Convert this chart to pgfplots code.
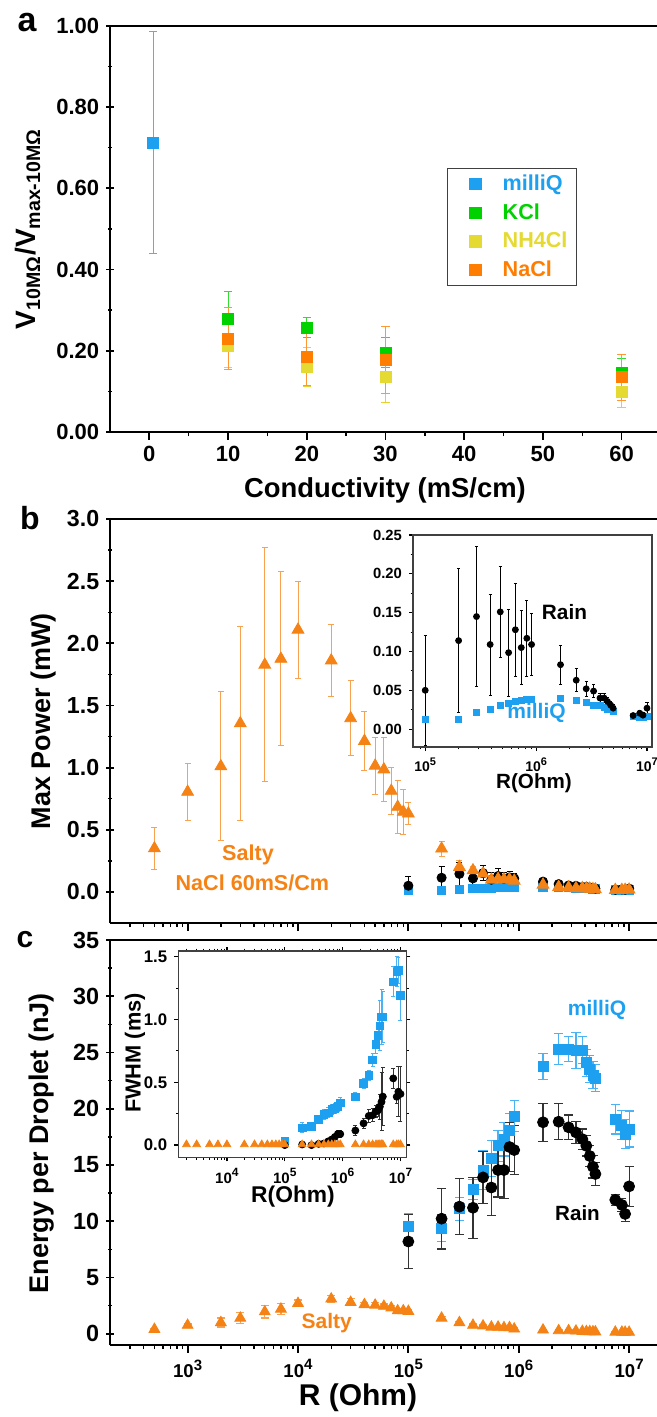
\documentclass[border=0pt]{standalone}
\usepackage{fontspec}
\setmainfont{Liberation Sans}
\usepackage{pgfplots}
\usepackage{pgfplotstable}
\pgfplotsset{compat=1.18}

\definecolor{cblue}{RGB}{30,160,240}
\definecolor{cgreen}{RGB}{0,210,0}
\definecolor{cyel}{RGB}{228,218,50}
\definecolor{corg}{RGB}{255,125,0}
\definecolor{salty}{RGB}{245,130,20}

\newcommand\lbl[1]{\bfseries\fontsize{#1}{#1}\selectfont}
\newcommand\tenp[2]{10\raisebox{0.42em}{\fontsize{#1}{#1}\selectfont #2}}

% panel a
\pgfplotstableread{
x y e
0.5 0.713 0.273
}\aMilli
\pgfplotstableread{
x y e
10 0.279 0.067
20 0.257 0.025
30 0.195 0.037
60 0.145 0.036
}\aKCl
\pgfplotstableread{
x y e
10 0.213 0.055
20 0.160 0.047
30 0.135 0.062
60 0.098 0.037
}\aNH
\pgfplotstableread{
x y e
10 0.230 0.076
20 0.185 0.070
30 0.178 0.082
60 0.135 0.057
}\aNaCl

% panels b, c: power (P), energy (E), FWHM (F)
\pgfplotstableread{
R P Pe E Ee F Fe
1e5 0.050 0.071 8.2 2.4 0.000 0.010
2e5 0.114 0.093 10.23 2.7 0.005 0.010
2.9e5 0.145 0.090 11.3 2.5 0.000 0.010
3.85e5 0.109 0.065 11.2 2.7 0.010 0.010
4.75e5 0.151 0.059 13.9 2.3 0.013 0.015
5.65e5 0.0985 0.056 13.0 2.5 0.030 0.020
6.5e5 0.128 0.060 14.55 2.4 0.045 0.020
7.35e5 0.105 0.048 14.55 2.5 0.065 0.020
8.25e5 0.117 0.049 16.6 2.2 0.088 0.030
9.1e5 0.109 0.040 16.33 2.2 0.088 0.030
1.66e6 0.083 0.025 18.8 1.7 0.116 0.040
2.3e6 0.063 0.015 18.85 1.6 0.173 0.040
2.83e6 0.052 0.010 18.35 1.1 0.232 0.050
3.3e6 0.049 0.008 17.9 1.0 0.238 0.050
3.77e6 0.040 0.006 17.3 0.9 0.268 0.050
4.1e6 0.040 0.006 16.7 0.9 0.277 0.050
4.4e6 0.0356 0.005 15.8 0.9 0.306 0.100
4.7e6 0.031 0.005 14.85 1.0 0.344 0.230
4.95e6 0.027 0.005 14.2 1.0 0.386 0.230
7.5e6 0.0175 0.002 11.9 0.5 0.531 0.080
8.6e6 0.0205 0.003 11.45 0.6 0.385 0.050
9.2e6 0.018 0.003 10.65 0.7 0.425 0.200
1e7 0.027 0.008 13.1 1.8 0.407 0.220
}\rain
\pgfplotstableread{
R P Pe E Ee F Fe
1e5 0.012 0.002 9.5 1.2 0.032 0.020
2e5 0.012 0.002 9.4 1.2 0.138 0.040
2.9e5 0.0214 0.002 11.1 1.0 0.151 0.030
3.85e5 0.026 0.002 12.84 0.9 0.204 0.030
4.75e5 0.030 0.003 14.55 1.7 0.244 0.040
5.65e5 0.0334 0.003 15.6 1.6 0.257 0.040
6.5e5 0.036 0.003 16.7 1.4 0.284 0.040
7.35e5 0.0368 0.003 17.3 1.5 0.292 0.040
8.25e5 0.0377 0.003 18.1 1.5 0.310 0.040
9.1e5 0.0386 0.003 19.35 1.4 0.337 0.040
1.66e6 0.039 0.002 23.75 1.15 0.385 0.030
2.3e6 0.0368 0.002 25.3 1.4 0.490 0.040
2.83e6 0.0342 0.002 25.3 1.1 0.557 0.040
3.3e6 0.0304 0.002 25.2 1.6 0.677 0.050
3.77e6 0.030 0.002 25.2 1.2 0.800 0.070
4.1e6 0.0283 0.002 24.1 1.2 0.875 0.070
4.4e6 0.026 0.002 23.5 1.2 0.950 0.200
4.7e6 0.025 0.002 23.0 1.2 1.020 0.220
4.95e6 0.023 0.002 22.7 1.2 1.020 0.200
7.5e6 0.0162 0.002 19.05 1.3 1.300 0.120
8.6e6 0.015 0.002 18.55 1.3 1.380 0.120
9.2e6 0.015 0.002 17.75 1.3 1.390 0.100
1e7 0.017 0.002 18.2 1.6 1.194 0.200
}\milli
\pgfplotstableread{
R P Pe E Ee F
500 0.350 0.17 0.40 0.10 0.005
1000 0.805 0.23 0.76 0.10 0.005
2000 1.010 0.60 1.00 0.40 0.005
3000 1.356 0.78 1.40 0.50 0.005
5000 1.827 0.94 1.96 0.55 0.005
7000 1.875 0.70 2.20 0.50 0.005
1e4 2.109 0.39 2.70 0.30 0.005
2e4 1.861 0.29 3.10 0.30 0.005
3e4 1.397 0.30 2.80 0.30 0.005
4e4 1.214 0.24 2.60 0.20 0.005
5e4 1.015 0.23 2.55 0.20 0.005
6e4 0.985 0.26 2.45 0.20 0.005
7e4 0.813 0.19 2.30 0.20 0.005
8e4 0.684 0.21 2.05 0.20 0.005
9e4 0.644 0.18 2.05 0.20 0.005
1e5 0.630 0.09 2.00 0.15 0.005
2e5 0.348 0.06 1.40 0.15 0.005
2.9e5 0.200 0.05 1.00 0.10 0.005
3.85e5 0.173 0.03 0.76 0.10 0.005
4.75e5 0.147 0.03 0.70 0.08 0.005
5.65e5 0.098 0.02 0.60 0.08 0.005
6.5e5 0.105 0.02 0.60 0.08 0.005
7.35e5 0.100 0.02 0.55 0.08 0.005
8.25e5 0.100 0.02 0.55 0.08 0.005
9.1e5 0.090 0.02 0.43 0.08 0.005
1.66e6 0.058 0.01 0.34 0.05 0.005
2.3e6 0.040 0.01 0.28 0.05 0.005
2.83e6 0.035 0.01 0.28 0.05 0.005
3.3e6 0.030 0.01 0.25 0.05 0.005
3.77e6 0.030 0.01 0.22 0.05 0.005
4.1e6 0.028 0.01 0.20 0.05 0.005
4.4e6 0.025 0.01 0.20 0.05 0.005
4.7e6 0.022 0.01 0.18 0.05 0.005
4.95e6 0.020 0.01 0.17 0.05 0.005
7.5e6 0.015 0.01 0.15 0.05 0.005
8.6e6 0.015 0.01 0.15 0.05 0.005
9.2e6 0.016 0.01 0.14 0.30 0.005
1e7 0.018 0.01 0.14 0.05 0.005
}\salt

\pgfplotsset{
  base/.style={scale only axis, anchor=north west, tick align=outside,
    axis x line=box, axis y line=left, xtick pos=left, ytick pos=left,
    axis line style={-, line width=1pt, black},
    every outer y axis line/.append style={-},
    major tick length=3.75pt, minor tick length=2pt,
    major tick style={line width=0.9pt, black},
    minor tick style={line width=0.7pt, black},
    /pgf/number format/assume math mode=true},
  inset/.style={scale only axis, anchor=north west, tick align=outside,
    axis line style={line width=0.7pt, black!75},
    major tick length=2pt, minor tick length=1.2pt,
    major tick style={line width=0.6pt, black},
    minor tick style={line width=0.5pt, black},
    axis background/.style={fill=white},
    /pgf/number format/assume math mode=true},
  eb/.style n args={3}{error bars/.cd, y dir=both, y explicit,
    error bar style={line width=#3, #1},
    error mark options={rotate=90, mark size=#2, line width=#3, #1}},
}

\begin{document}
\begin{tikzpicture}
\useasboundingbox (0,0) rectangle (328.5pt,-708.5pt);

% ---------- panel a ----------
\begin{axis}[base, at={(55pt,-13pt)}, width=273.5pt, height=203pt,
  xmin=-5, xmax=64.5, ymin=0, ymax=1,
  xtick={0,10,20,30,40,50,60}, minor x tick num=1,
  ytick={0,0.2,0.4,0.6,0.8,1}, minor y tick num=1,
  tick label style={font=\lbl{11}},
  yticklabel style={/pgf/number format/fixed, /pgf/number format/fixed zerofill,
    /pgf/number format/precision=2},
  legend style={at={(0.616,0.650)}, anchor=north west, draw=black!75,
    line width=0.7pt, font=\lbl{10.8}, inner xsep=2.5pt, inner ysep=1pt,
    row sep=1pt, cells={anchor=west}},
  legend image code/.code={\path[draw=none, fill=none] (0pt,0pt) -- (23pt,0pt);
    \draw[#1] plot coordinates {(11.5pt,0pt)};},
  legend entries={\textcolor{cblue}{milliQ},\textcolor{cgreen}{KCl},
    \textcolor{cyel}{NH4Cl},\textcolor{corg}{NaCl}}]
\addplot[only marks, mark=square*, mark size=2.75pt, cblue,
  eb={cblue!80}{2.1pt}{0.5pt}] table[x=x, y=y, y error=e]{\aMilli};
\addplot[only marks, mark=square*, mark size=2.75pt, cgreen,
  eb={cgreen!80}{2.1pt}{0.5pt}] table[x=x, y=y, y error=e]{\aKCl};
\addplot[only marks, mark=square*, mark size=2.75pt, cyel,
  eb={cyel!90!orange}{2.1pt}{0.5pt}] table[x=x, y=y, y error=e]{\aNH};
\addplot[only marks, mark=square*, mark size=2.75pt, corg,
  eb={corg!80}{2.1pt}{0.5pt}] table[x=x, y=y, y error=e]{\aNaCl};
\end{axis}

% ---------- panel b ----------
\begin{axis}[base, at={(55pt,-259.5pt)}, width=273.5pt, height=202pt,
  xmode=log, xmin=198, xmax=1.79e7, ymin=-0.25, ymax=3,
  xtick={1e3,1e4,1e5,1e6,1e7}, xticklabels={},
  minor xtick={300,400,500,600,700,800,900,2000,3000,4000,5000,6000,7000,8000,9000,
    2e4,3e4,4e4,5e4,6e4,7e4,8e4,9e4,2e5,3e5,4e5,5e5,6e5,7e5,8e5,9e5,
    2e6,3e6,4e6,5e6,6e6,7e6,8e6,9e6},
  ytick={0,0.5,1,1.5,2,2.5,3}, minor y tick num=1,
  tick label style={font=\lbl{11.6}},
  yticklabel style={/pgf/number format/fixed, /pgf/number format/fixed zerofill,
    /pgf/number format/precision=1}]
\addplot[only marks, mark=square*, mark size=2.1pt, cblue,
  eb={cblue!80}{1.5pt}{0.5pt}] table[x=R, y=P, y error=Pe]{\milli};
\addplot[only marks, mark=*, mark size=2.3pt, black,
  eb={black}{1.5pt}{0.5pt}] table[x=R, y=P, y error=Pe]{\rain};
\addplot[only marks, mark=triangle*, mark size=3.4pt, salty,
  eb={salty!75}{1.5pt}{0.5pt}] table[x=R, y=P, y error=Pe]{\salt};
\end{axis}

% inset b
\begin{axis}[inset, at={(206.5pt,-267.5pt)}, width=119.5pt, height=106pt,
  xmode=log, xmin=7.76e4, xmax=1.11e7, ymin=-0.023, ymax=0.25,
  xtick pos=left, ytick pos=left,
  xtick={1e5,1e6,1e7},
  xticklabels={\tenp{5.5}{5},\tenp{5.5}{6},\tenp{5.5}{7}},
  minor xtick={9e4,2e5,3e5,4e5,5e5,6e5,7e5,8e5,9e5,2e6,3e6,4e6,5e6,6e6,7e6,8e6,9e6},
  ytick={0,0.05,0.1,0.15,0.2,0.25}, minor y tick num=1,
  xticklabel style={font=\lbl{7}},
  yticklabel style={font=\lbl{7.4}, /pgf/number format/fixed,
    /pgf/number format/fixed zerofill, /pgf/number format/precision=2}]
\addplot[only marks, mark=square*, mark size=1.5pt, cblue,
  eb={cblue!80}{0.8pt}{0.4pt}] table[x=R, y=P, y error=Pe]{\milli};
\addplot[only marks, mark=*, mark size=1.5pt, black,
  eb={black}{0.8pt}{0.4pt}] table[x=R, y=P, y error=Pe]{\rain};
\end{axis}

% ---------- panel c ----------
\begin{axis}[base, at={(55pt,-470pt)}, width=273.5pt, height=202.5pt,
  xmode=log, xmin=198, xmax=1.79e7, ymin=-1, ymax=35,
  xtick={1e3,1e4,1e5,1e6,1e7},
  xticklabels={\tenp{7.5}{3},\tenp{7.5}{4},\tenp{7.5}{5},\tenp{7.5}{6},\tenp{7.5}{7}},
  minor xtick={300,400,500,600,700,800,900,2000,3000,4000,5000,6000,7000,8000,9000,
    2e4,3e4,4e4,5e4,6e4,7e4,8e4,9e4,2e5,3e5,4e5,5e5,6e5,7e5,8e5,9e5,
    2e6,3e6,4e6,5e6,6e6,7e6,8e6,9e6},
  ytick={0,5,10,15,20,25,30,35}, minor y tick num=1,
  xticklabel style={font=\lbl{9.3}},
  yticklabel style={font=\lbl{11.7}}]
\addplot[only marks, mark=square*, mark size=2.5pt, cblue,
  eb={cblue!80}{2.3pt}{0.6pt}] table[x=R, y=E, y error=Ee]{\milli};
\addplot[only marks, mark=*, mark size=2.75pt, black,
  eb={black!80}{2.3pt}{0.6pt}] table[x=R, y=E, y error=Ee]{\rain};
\addplot[only marks, mark=triangle*, mark size=3.1pt, salty,
  eb={salty!75}{2pt}{0.6pt}] table[x=R, y=E, y error=Ee]{\salt};
\end{axis}

% inset c
\begin{axis}[inset, at={(89.15pt,-475.5pt)}, width=114pt, height=103.2pt,
  xmode=log, xmin=1445, xmax=1.26e7, ymin=-0.098, ymax=1.545,
  xtick pos=both, ytick pos=both,
  xtick={1e4,1e5,1e6,1e7},
  xticklabels={\tenp{6}{4},\tenp{6}{5},\tenp{6}{6},\tenp{6}{7}},
  minor xtick={2000,3000,4000,5000,6000,7000,8000,9000,
    2e4,3e4,4e4,5e4,6e4,7e4,8e4,9e4,2e5,3e5,4e5,5e5,6e5,7e5,8e5,9e5,
    2e6,3e6,4e6,5e6,6e6,7e6,8e6,9e6},
  ytick={0,0.5,1,1.5}, minor y tick num=1,
  xticklabel style={font=\lbl{7.5}},
  yticklabel style={font=\lbl{8.4}, /pgf/number format/fixed,
    /pgf/number format/fixed zerofill, /pgf/number format/precision=1}]
\addplot[only marks, mark=square*, mark size=1.9pt, cblue,
  eb={cblue!80}{1pt}{0.5pt}] table[x=R, y=F, y error=Fe]{\milli};
\addplot[only marks, mark=*, mark size=1.75pt, black,
  eb={black!80}{1pt}{0.5pt}] table[x=R, y=F, y error=Fe]{\rain};
\addplot[only marks, mark=triangle*, mark size=2.2pt, salty] table[x=R, y=F]{\salt};
\end{axis}

% ---------- labels and annotations ----------
\node[font=\lbl{17}] at (13.5pt,-11.5pt) {a};
\node[font=\lbl{16}] at (15pt,-259pt) {b};
\node[font=\lbl{15}] at (12.5pt,-470pt) {c};
\node[font=\lbl{13.7}] at (192.5pt,-245pt) {Conductivity (mS/cm)};
\node[font=\lbl{14}, rotate=90] at (14pt,-114.5pt) {V\textsubscript{10MΩ}/V\textsubscript{max-10MΩ}};
\node[font=\lbl{13.5}, rotate=90] at (22pt,-360.5pt) {Max Power (mW)};
\node[font=\lbl{13.5}, rotate=90] at (21pt,-571.5pt) {Energy per Droplet (nJ)};
\node[font=\lbl{15}] at (179pt,-699pt) {R (Ohm)};
\node[font=\lbl{10.3}] at (267pt,-391.5pt) {R(Ohm)};
\node[font=\lbl{11.4}] at (146.5pt,-598.5pt) {R(Ohm)};
\node[font=\lbl{10.9}, rotate=90] at (67.5pt,-526.5pt) {FWHM (ms)};
\node[font=\lbl{10.4}] at (282.25pt,-305.85pt) {Rain};
\node[font=\lbl{10.5}, text=cblue] at (268.25pt,-356.5pt) {milliQ};
\node[font=\lbl{10.8}, text=salty] at (124pt,-427.5pt) {Salty};
\node[font=\lbl{10.8}, text=salty] at (126.2pt,-441.65pt) {NaCl 60mS/Cm};
\node[font=\lbl{10.5}, text=cblue] at (298.5pt,-505pt) {milliQ};
\node[font=\lbl{10.3}] at (288.75pt,-606.5pt) {Rain};
\node[font=\lbl{10.5}, text=salty] at (163.4pt,-661.75pt) {Salty};
\end{tikzpicture}
\end{document}
